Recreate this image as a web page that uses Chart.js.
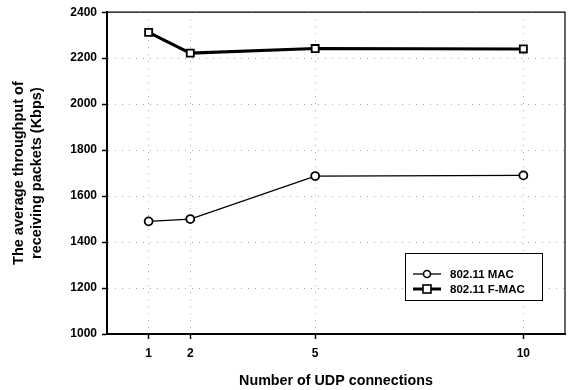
<!DOCTYPE html>
<html>
<head>
<meta charset="utf-8">
<script src="https://cdn.jsdelivr.net/npm/chart.js@4"></script>
<style>
  html, body { margin: 0; padding: 0; background: #fff; }
  #wrap { width: 572px; height: 390px; }
</style>
</head>
<body>
<div id="wrap"><canvas id="grafico" width="572" height="390"></canvas></div>
<script>
// dados
const conexoes = [1, 2, 5, 10];
const macNormal = [1490, 1500, 1687, 1690];
const macF = [2312, 2222, 2242, 2240];
const nomesSeries = ['802.11 MAC', '802.11 F-MAC'];
const ticksX = [1, 2, 5, 10];

const fonte = '"Liberation Sans", Arial, sans-serif';

// moldura em volta da área do gráfico
const moldura = {
  id: 'moldura',
  afterDraw(chart) {
    const { ctx, chartArea: a } = chart;
    ctx.save();
    ctx.strokeStyle = '#000';
    ctx.lineWidth = 1.2;
    ctx.beginPath();
    ctx.moveTo(a.left, a.top);
    ctx.lineTo(a.right, a.top);
    ctx.lineTo(a.right, a.bottom);
    ctx.stroke();
    ctx.restore();
  }
};

// legenda com caixa dentro da área do gráfico
const legendaCaixa = {
  id: 'legendaCaixa',
  afterDraw(chart) {
    const { ctx } = chart;
    const x = 405, y = 253, w = 137, h = 47;
    ctx.save();
    ctx.fillStyle = '#fff';
    ctx.fillRect(x, y, w, h);
    ctx.strokeStyle = '#000';
    ctx.lineWidth = 1;
    ctx.strokeRect(x + 0.5, y + 0.5, w, h);
    chart.data.datasets.forEach((ds, i) => {
      const ly = 274 + i * 15;
      ctx.strokeStyle = '#000';
      ctx.lineWidth = ds.borderWidth;
      ctx.beginPath();
      ctx.moveTo(413, ly);
      ctx.lineTo(441, ly);
      ctx.stroke();
      ctx.fillStyle = '#fff';
      ctx.lineWidth = 1.6;
      if (ds.pointStyle === 'rect') {
        ctx.fillRect(423, ly - 4, 8, 8);
        ctx.strokeRect(423, ly - 4, 8, 8);
      } else {
        ctx.beginPath();
        ctx.arc(427, ly, 3.5, 0, Math.PI * 2);
        ctx.fill();
        ctx.stroke();
      }
      ctx.fillStyle = '#000';
      ctx.font = 'bold 11.5px ' + fonte;
      ctx.textBaseline = 'middle';
      ctx.fillText(ds.label, 450, ly + 1);
    });
    ctx.restore();
  }
};

const ctx = document.getElementById('grafico').getContext('2d');
new Chart(ctx, {
  type: 'line',
  data: {
    datasets: [
      {
        label: nomesSeries[0],
        data: conexoes.map((c, i) => ({ x: c, y: macNormal[i] })),
        borderColor: '#000',
        borderWidth: 1.3,
        pointStyle: 'circle',
        pointRadius: 4,
        pointBorderWidth: 1.8,
        pointBackgroundColor: '#fff',
        pointBorderColor: '#000'
      },
      {
        label: nomesSeries[1],
        data: conexoes.map((c, i) => ({ x: c, y: macF[i] })),
        borderColor: '#000',
        borderWidth: 3,
        pointStyle: 'rect',
        pointRadius: 5,
        pointBorderWidth: 1.8,
        pointBackgroundColor: '#fff',
        pointBorderColor: '#000'
      }
    ]
  },
  options: {
    responsive: false,
    animation: false,
    layout: { padding: { left: 0, right: 7, top: 11, bottom: 0 } },
    plugins: {
      legend: { display: false },
      tooltip: { enabled: false }
    },
    scales: {
      x: {
        type: 'linear',
        min: 0,
        max: 11,
        afterBuildTicks: (axis) => { axis.ticks = ticksX.map(v => ({ value: v })); },
        afterFit: (axis) => { axis.height = 56; },
        grid: {
          color: '#a8a8a8',
          lineWidth: 1,
          drawTicks: true,
          tickLength: 5,
          tickColor: '#000',
          tickWidth: 1.5
        },
        border: { color: '#000', width: 2, dash: [1, 6] },
        ticks: {
          color: '#000',
          font: { family: fonte, size: 12, weight: 'bold' },
          padding: 7,
          callback: (v) => String(v)
        },
        title: {
          display: true,
          text: 'Number of UDP connections',
          color: '#000',
          font: { family: fonte, size: 14.3, weight: 'bold' },
          padding: { top: 12, bottom: 0 }
        }
      },
      y: {
        min: 1000,
        max: 2400,
        afterFit: (axis) => { axis.width = 107; },
        ticks: {
          stepSize: 200,
          color: '#000',
          font: { family: fonte, size: 12, weight: 'bold' },
          padding: 5,
          callback: (v) => String(v)
        },
        grid: {
          color: '#a8a8a8',
          lineWidth: 1,
          tickLength: 5,
          tickColor: '#000',
          tickWidth: 1.5
        },
        border: { color: '#000', width: 2, dash: [1, 6] },
        title: {
          display: true,
          text: ['The average throughput of', 'receiving packets (Kbps)'],
          color: '#000',
          font: { family: fonte, size: 14.5, weight: 'bold', lineHeight: 1.25 },
          padding: { top: 10, bottom: 0 }
        }
      }
    }
  },
  plugins: [moldura, legendaCaixa]
});
</script>
</body>
</html>
